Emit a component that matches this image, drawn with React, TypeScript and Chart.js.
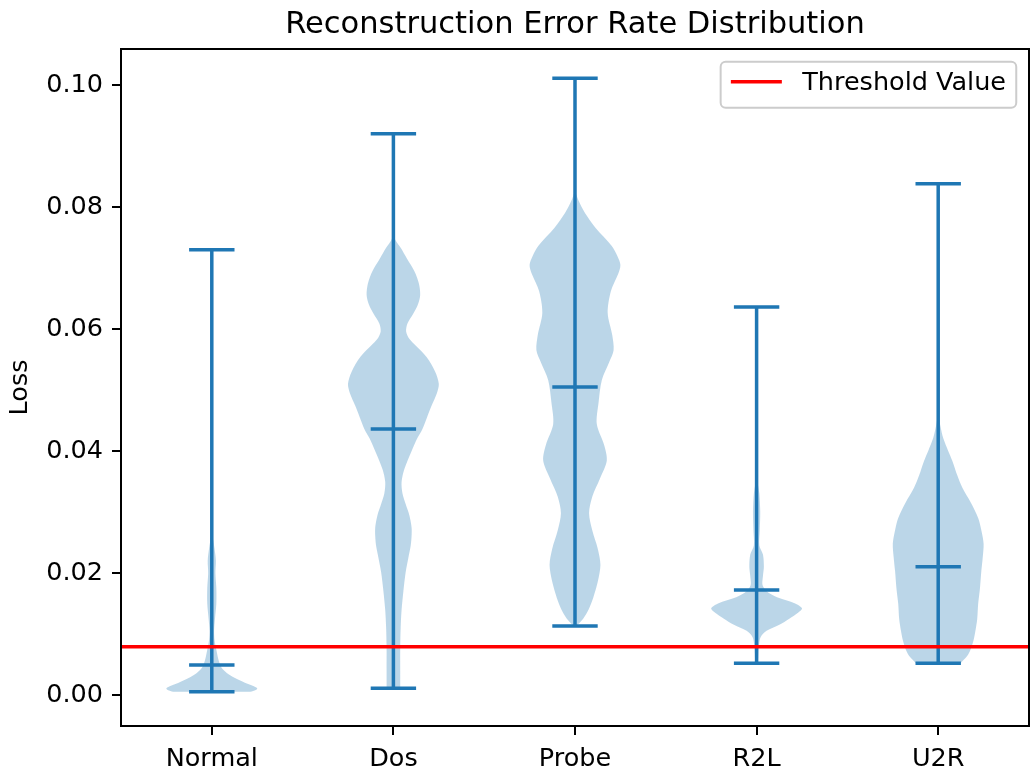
import { useEffect, useRef } from "react";
import { Chart, registerables } from "chart.js";

Chart.register(...registerables);

// ---- data ----------------------------------------------------------------
const categories = ["Normal", "Dos", "Probe", "R2L", "U2R"];
const minLoss = [0.0005, 0.0011, 0.0113, 0.0052, 0.0052];
const maxLoss = [0.073, 0.092, 0.1011, 0.0636, 0.0838];
const meanLoss = [0.0049, 0.0436, 0.0505, 0.0172, 0.021];
const thresholdLoss = 0.0079;
const thresholdLabel = "Threshold Value";
const lossTicks = [0, 0.02, 0.04, 0.06, 0.08, 0.1];
const lossRange = [-0.0051, 0.1059];

// kernel density profiles: [loss, density relative to the widest point]
const normalKde: [number, number][] = [
  [0.0005, 0.85], [0.0008, 0.97], [0.0011, 1.0], [0.0015, 0.9], [0.002, 0.73],
  [0.0028, 0.5], [0.0036, 0.33], [0.0044, 0.22], [0.0057, 0.15], [0.0074, 0.1],
  [0.009, 0.06], [0.0105, 0.05], [0.0125, 0.07], [0.015, 0.1], [0.0175, 0.1],
  [0.02, 0.08], [0.022, 0.09], [0.024, 0.06], [0.026, 0.02], [0.029, 0.0],
];
const dosKde: [number, number][] = [
  [0.0011, 0.15], [0.004, 0.15], [0.0077, 0.15], [0.011, 0.16], [0.0139, 0.18],
  [0.017, 0.22], [0.0201, 0.27], [0.0225, 0.33], [0.0244, 0.38], [0.026, 0.4],
  [0.0275, 0.4], [0.0295, 0.35], [0.0313, 0.27], [0.033, 0.2], [0.0349, 0.18],
  [0.037, 0.24], [0.0398, 0.39], [0.042, 0.52], [0.0436, 0.64], [0.0455, 0.74],
  [0.0474, 0.84], [0.0495, 0.96], [0.051, 1.0], [0.053, 0.92], [0.0554, 0.73],
  [0.0572, 0.5], [0.0584, 0.35], [0.0596, 0.28], [0.0609, 0.31], [0.0624, 0.43],
  [0.064, 0.54], [0.0656, 0.59], [0.0675, 0.56], [0.0695, 0.46], [0.0715, 0.3],
  [0.0733, 0.16], [0.0745, 0.05], [0.0755, 0.0],
];
const probeKde: [number, number][] = [
  [0.0113, 0.03], [0.0125, 0.18], [0.014, 0.3], [0.0159, 0.4], [0.0185, 0.5],
  [0.0213, 0.56], [0.024, 0.5], [0.027, 0.38], [0.0298, 0.31], [0.0325, 0.38],
  [0.0355, 0.55], [0.0384, 0.7], [0.041, 0.64], [0.0444, 0.48], [0.048, 0.52],
  [0.0516, 0.59], [0.0545, 0.75], [0.0565, 0.85], [0.059, 0.82], [0.0626, 0.72],
  [0.0662, 0.79], [0.069, 0.95], [0.0705, 1.0], [0.072, 0.93], [0.0736, 0.81],
  [0.0766, 0.45], [0.079, 0.22], [0.081, 0.08], [0.0826, 0.0],
];
const r2lKde: [number, number][] = [
  [0.0052, 0.03], [0.008, 0.05], [0.0095, 0.09], [0.0105, 0.22], [0.0115, 0.5],
  [0.0125, 0.72], [0.0135, 0.92], [0.0142, 1.0], [0.015, 0.85], [0.016, 0.45],
  [0.017, 0.22], [0.018, 0.13], [0.0195, 0.14], [0.021, 0.16], [0.023, 0.14],
  [0.0245, 0.06], [0.027, 0.07], [0.03, 0.08], [0.033, 0.06], [0.035, 0.02],
  [0.037, 0.0],
];
const u2rKde: [number, number][] = [
  [0.0052, 0.49], [0.0062, 0.62], [0.0072, 0.7], [0.009, 0.78], [0.0105, 0.82],
  [0.0125, 0.86], [0.0149, 0.88], [0.0175, 0.92], [0.0203, 0.95], [0.0225, 0.98],
  [0.0248, 1.0], [0.027, 0.95], [0.029, 0.88], [0.0315, 0.72], [0.034, 0.53],
  [0.036, 0.42], [0.0384, 0.31], [0.04, 0.22], [0.0421, 0.11], [0.044, 0.05],
  [0.0461, 0.0],
];
const kdeProfiles = [normalKde, dosKde, probeKde, r2lKde, u2rKde];

// ---- styling ---------------------------------------------------------------
const FONT_FAMILY = '"DejaVu Sans", sans-serif';
const LINE_BLUE = "#1f77b4";
const BODY_FILL = "rgba(31, 119, 180, 0.3)";
const BODY_HALF_WIDTH = 0.25;
const CAP_HALF_WIDTH = 0.125;
const LINE_WIDTH = 3.5;
const TEXT_SIZE = 25.5;
const TICK_FONT = { family: FONT_FAMILY, size: TEXT_SIZE };

type Pt = { x: number; y: number | null };

// violin bodies: right edge upward, then left edge back down
const bodyDatasets = kdeProfiles.map((profile, i) => {
  const pos = i + 1;
  const right: Pt[] = profile.map(([y, d]) => ({ x: pos + d * BODY_HALF_WIDTH, y }));
  const left: Pt[] = [...profile].reverse().map(([y, d]) => ({ x: pos - d * BODY_HALF_WIDTH, y }));
  return {
    label: categories[i],
    data: [...right, ...left],
    showLine: true,
    fill: "shape",
    backgroundColor: BODY_FILL,
    borderColor: "rgba(0,0,0,0)",
    borderWidth: 0,
    pointRadius: 0,
    tension: 0.3,
    order: 3,
  };
});

const segments = (pairs: [Pt, Pt][]): Pt[] =>
  pairs.flatMap(([a, b]) => [a, b, { x: b.x, y: null }]);

const lineStyle = {
  showLine: true,
  borderColor: LINE_BLUE,
  borderWidth: LINE_WIDTH,
  borderCapStyle: "butt",
  pointRadius: 0,
  fill: false,
  spanGaps: false,
  order: 2,
};

const extentDataset = {
  label: "extent",
  data: segments(categories.map((_, i) => [
    { x: i + 1, y: minLoss[i] },
    { x: i + 1, y: maxLoss[i] },
  ])),
  ...lineStyle,
};

const capDataset = (label: string, values: number[]) => ({
  label,
  data: segments(values.map((v, i) => [
    { x: i + 1 - CAP_HALF_WIDTH, y: v },
    { x: i + 1 + CAP_HALF_WIDTH, y: v },
  ])),
  ...lineStyle,
});

const thresholdDataset = {
  label: thresholdLabel,
  data: [
    { x: 0.5, y: thresholdLoss },
    { x: categories.length + 0.5, y: thresholdLoss },
  ],
  showLine: true,
  borderColor: "#ff0000",
  borderWidth: LINE_WIDTH,
  borderCapStyle: "butt",
  pointRadius: 0,
  fill: false,
  order: 0,
};

// axes frame on all four sides plus the threshold legend box
const frameAndLegend = {
  id: "frameAndLegend",
  afterDatasetsDraw(chart: any) {
    const { ctx, chartArea } = chart;
    ctx.save();
    ctx.strokeStyle = "#000";
    ctx.lineWidth = 2;
    ctx.strokeRect(
      chartArea.left,
      chartArea.top,
      chartArea.right - chartArea.left,
      chartArea.bottom - chartArea.top
    );
    ctx.restore();
  },
  afterDraw(chart: any) {
    const { ctx, chartArea } = chart;
    const ds = chart.data.datasets.find((d: any) => d.label === thresholdLabel);
    if (!ds) return;
    const fs = TEXT_SIZE;
    ctx.save();
    ctx.font = `${fs}px ${FONT_FAMILY}`;
    const textW = ctx.measureText(ds.label).width;
    const pad = 0.4 * fs;
    const handle = 2 * fs;
    const gap = 0.8 * fs;
    const w = pad * 2 + handle + gap + textW;
    const h = 46;
    const right = chartArea.right - 0.5 * fs;
    const top = chartArea.top + 0.5 * fs;
    const left = right - w;
    ctx.beginPath();
    if ((ctx as any).roundRect) (ctx as any).roundRect(left, top, w, h, 5);
    else ctx.rect(left, top, w, h);
    ctx.fillStyle = "rgba(255,255,255,0.8)";
    ctx.fill();
    ctx.strokeStyle = "#cccccc";
    ctx.lineWidth = 2;
    ctx.stroke();
    const midY = top + h / 2 - 3;
    ctx.beginPath();
    ctx.moveTo(left + pad, midY);
    ctx.lineTo(left + pad + handle, midY);
    ctx.strokeStyle = ds.borderColor;
    ctx.lineWidth = LINE_WIDTH;
    ctx.stroke();
    ctx.fillStyle = "#000";
    ctx.textAlign = "left";
    ctx.textBaseline = "alphabetic";
    ctx.fillText(ds.label, left + pad + handle + gap, top + 28);
    ctx.restore();
  },
};

export default function App() {
  const canvasRef = useRef<HTMLCanvasElement | null>(null);

  useEffect(() => {
    const canvas = canvasRef.current;
    if (!canvas) return;
    Chart.defaults.font.family = FONT_FAMILY;

    const chart = new Chart(canvas, {
      type: "scatter",
      data: {
        datasets: [
          thresholdDataset,
          extentDataset,
          capDataset("min", minLoss),
          capDataset("max", maxLoss),
          capDataset("mean", meanLoss),
          ...bodyDatasets,
        ] as any,
      },
      options: {
        responsive: false,
        devicePixelRatio: 1,
        animation: false,
        events: [],
        layout: { padding: { left: 0, right: 1, top: 0, bottom: 0 } },
        plugins: {
          legend: { display: false },
          tooltip: { enabled: false },
          title: {
            display: true,
            text: "Reconstruction Error Rate Distribution",
            fullSize: false,
            color: "#000",
            font: { family: FONT_FAMILY, size: 30.5, weight: "normal", lineHeight: 1.2 },
            padding: { top: 7, bottom: 5.4 },
          },
        },
        scales: {
          x: {
            type: "linear",
            min: 0.5,
            max: categories.length + 0.5,
            afterBuildTicks: (scale: any) => {
              scale.ticks = categories.map((_, i) => ({ value: i + 1 }));
            },
            afterFit: (scale: any) => {
              scale.height = 46;
            },
            ticks: {
              callback: (v: any) => categories[Math.round(Number(v)) - 1] ?? "",
              color: "#000",
              font: TICK_FONT,
              padding: 9,
              maxRotation: 0,
              autoSkip: false,
            },
            grid: {
              display: true,
              drawOnChartArea: false,
              drawTicks: true,
              tickLength: 9,
              tickWidth: 2,
              lineWidth: 2,
              color: "#000",
            },
            border: { display: false },
          },
          y: {
            type: "linear",
            min: lossRange[0],
            max: lossRange[1],
            afterBuildTicks: (scale: any) => {
              scale.ticks = lossTicks.map((v) => ({ value: v }));
            },
            afterFit: (scale: any) => {
              scale.width = 121;
            },
            ticks: {
              callback: (v: any) => Number(v).toFixed(2),
              color: "#000",
              font: TICK_FONT,
              padding: 9,
            },
            grid: {
              display: true,
              drawOnChartArea: false,
              drawTicks: true,
              tickLength: 9,
              tickWidth: 2,
              lineWidth: 2,
              color: "#000",
            },
            border: { display: false },
            title: {
              display: true,
              text: "Loss",
              color: "#000",
              font: { family: FONT_FAMILY, size: TEXT_SIZE, lineHeight: 1.2 },
              padding: { top: 5, bottom: 0 },
            },
          },
        },
      } as any,
      plugins: [frameAndLegend],
    });

    return () => chart.destroy();
  }, []);

  return (
    <div
      style={{
        position: "fixed",
        left: 0,
        top: 0,
        width: 1030,
        height: 772,
        background: "#fff",
      }}
    >
      <canvas ref={canvasRef} width={1030} height={772} style={{ display: "block" }} />
    </div>
  );
}
